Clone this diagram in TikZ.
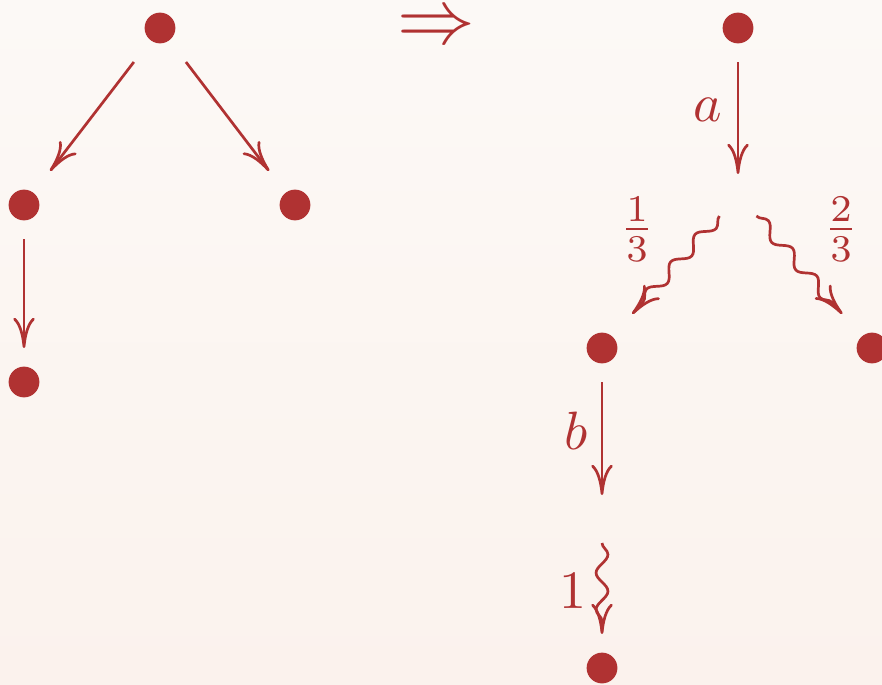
\documentclass[tikz,border=0pt]{standalone}
\usetikzlibrary{arrows.meta,decorations.pathmorphing}
\definecolor{ink}{RGB}{176,50,50}
\definecolor{bgtop}{RGB}{252,249,246}
\definecolor{bgbot}{RGB}{251,242,237}
\begin{document}
\begin{tikzpicture}[x=0.1852pt,y=0.1852pt,
  dot/.style={rectangle, minimum width=11.85pt, minimum height=12.6pt, inner sep=0pt, outer sep=0pt,
    path picture={\fill[ink] (path picture bounding box.center) circle[radius=2.85pt];}},
  gap/.style={rectangle, inner sep=0pt, outer sep=0pt, minimum width=9pt, minimum height=#1},
  arr/.style={draw=ink, line width=0.5pt, -{Computer Modern Rightarrow[length=5.6pt,width=4pt]}},
  sq/.style={arr, decorate, decoration={snake, amplitude=1.1pt, segment length=6.8pt}},
  lab/.style={text=ink, inner sep=0pt}]
\useasboundingbox (0,0) rectangle (882,-684);
\shade[top color=bgtop,bottom color=bgbot] (0,0) rectangle (882,-684);
% left tree
\node[dot] (L0) at (160,-28) {};
\node[dot] (L1) at (24,-205) {};
\node[dot] (L2) at (295,-205) {};
\node[dot] (L3) at (24,-382) {};
\draw[arr] (L0) -- (L1);
\draw[arr] (L0) -- (L2);
\draw[arr] (L1) -- (L3);
% implication
\node[lab, font=\fontsize{13.5}{16}\selectfont, text height=5pt, text depth=0pt] (imp) at (436,-30) {$\Rightarrow$};
% right tree
\node[dot] (R0) at (738,-28) {};
\node[gap=7.78pt] (m1) at (738,-195) {};
\node[dot] (R1) at (602,-348) {};
\node[dot] (R2) at (872,-348) {};
\node[gap=8.89pt] (m2) at (602,-519) {};
\node[dot] (R3) at (602,-668) {};
\draw[arr] (R0) -- (m1);
\draw[sq] (m1) -- (R1);
\draw[sq] (m1) -- (R2);
\draw[arr] (R1) -- (m2);
\draw[sq] (m2) -- (R3);
% labels
\node[lab] (la) at (708,-110) {$a$};
\node[lab] (lb) at (576,-431) {$b$};
\node[lab] (l1) at (573,-591) {$1$};
\node[lab] (l13) at (637,-229) {$\frac{1}{3}$};
\node[lab] (l23) at (841,-229) {$\frac{2}{3}$};
\end{tikzpicture}
\end{document}
